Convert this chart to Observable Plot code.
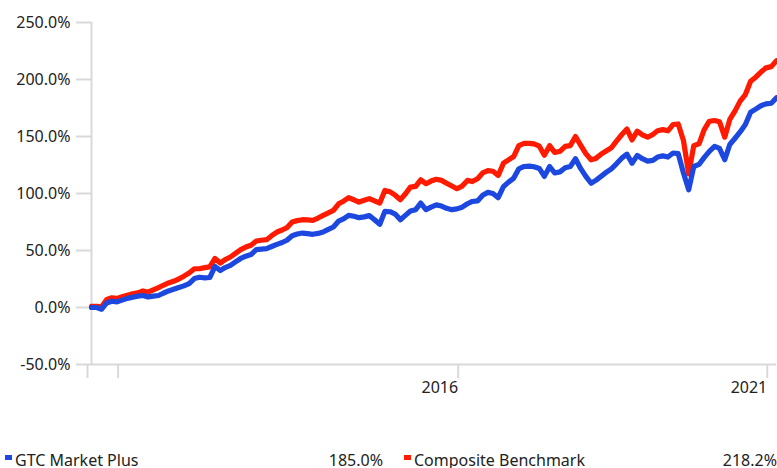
<!DOCTYPE html>
<html><head><meta charset="utf-8">
<script src="https://cdn.jsdelivr.net/npm/d3@7"></script>
<script src="https://cdn.jsdelivr.net/npm/@observablehq/plot@0.6"></script>
<style>
html,body{margin:0;padding:0;background:#fff;}
body{font-family:"Noto Sans",sans-serif;color:#222;width:777px;height:468px;overflow:hidden;}
#legend{position:relative;width:777px;height:16px;font-size:16px;line-height:16px;}
.item{position:absolute;top:0;display:flex;align-items:flex-start;white-space:nowrap;}
.sw{width:7px;height:5px;margin-top:3px;margin-right:3px;flex:none;}
.name{flex:1;}
.val{text-align:right;}
</style></head><body>
<div id="chart"></div>
<div id="legend"></div>
<script>
// Monthly observations, first month Jan 2010, last month Feb 2021
const firstMonth = "2010-01-01";
const lastMonth = "2021-02-01";
const gtc = [0,0,-1.5,4,5.5,5,6.5,8,9,10,10.5,9.3,10,10.5,12.5,14.5,16,17.5,19,21,
25.4,26.5,26,26.3,36,32.4,35,37,40,43,45,46.4,50.8,51.2,51.7,53.5,55.4,57,59,63,
64.5,65.3,64.8,64.2,65,66.2,68.5,70.6,75.8,78,80.8,80,78.8,79.5,80.6,77,73,84.3,84,82,
77,81,84.6,85.8,91.6,85.8,88,90,89,87,85.8,86.5,88,91,93,93.5,98.5,101,100,96.3,
106,110,113.5,121.7,123.7,124,123.5,122,115,123.7,118,119,122.6,123.7,130.5,122,115,109,111.5,115,
118.5,121.7,126,131,134.5,126.5,133.4,130.5,128.4,129,132,133,132,135.5,135,118,103.3,123.7,125.5,131.5,
137,141.3,139.5,129.6,143,148.5,154,160.5,171.3,174,177,178.6,179.2,184];
const composite = [1,1,0.5,7,8.5,8,9.5,10.8,12,12.8,14.5,13.4,15.5,17.5,19.5,21.5,23,25,27.5,30.3,
34,34,35,35.6,43,39,42,44.3,47.5,50.8,53,54.6,58.3,59,59.5,63,66.2,68,70,75,
76.2,77,76.8,76.5,78.5,80.8,83,85.2,91,93.5,96.3,94.5,92.5,94,95.5,93.5,91.6,102.7,101.5,98.5,
94.6,100,105.6,106.2,112,108.6,110.9,112.5,111.5,109,106.5,104.2,106.5,111.5,110.5,113,118,120,119.5,115.8,
126.6,129.5,132.5,142,144,144,143.5,141.5,133.5,142,136,137,141.3,142,150,142.5,135,129.6,130.8,134.5,
137.3,140.1,146,151.5,156.5,147,154.7,151.5,149.4,151.8,155,156,155,160.5,161,146.5,117.3,142,143.6,155.9,
163.4,164,163,149.4,165,172.5,181,186.8,198.4,202,206.5,210.2,211.3,216.5];
const seriesNames = ["GTC Market Plus", "Composite Benchmark"];
const seriesTotals = ["185.0%", "218.2%"];
const seriesColors = ["#1c48e0", "#ff1a00"];
const yTicks = [-50, 0, 50, 100, 150, 200, 250];
const xTickDates = ["2010-01-01", "2010-07-01", "2016-01-01", "2021-01-01"];
const xTickLabels = ["", "", "2016", "2021"];

const start = new Date(firstMonth), end = new Date(lastMonth);
const months = d3.utcMonth.range(start, d3.utcMonth.offset(end, 1));
const data = months.map((date, i) => ({date, gtc: gtc[i], composite: composite[i]}));
const xTicks = xTickDates.map(d => new Date(d));
const labelOf = new Map(xTicks.map((d, i) => [+d, xTickLabels[i]]));
const gray = "#d9d9d9";

const chart = Plot.plot({
  width: 777, height: 452,
  marginLeft: 91, marginRight: 1, marginTop: 22, marginBottom: 88,
  style: {fontFamily: "Noto Sans", fontSize: "16px", color: "#222", background: "#fff"},
  x: {type: "utc", domain: [start, end]},
  y: {domain: [-50, 250]},
  marks: [
    Plot.ruleY([-50], {stroke: gray, strokeWidth: 2}),
    Plot.ruleX([start], {y1: -50, y2: 250, stroke: gray, strokeWidth: 2}),
    Plot.axisY({ticks: yTicks, tickSize: 15, tickPadding: 6, stroke: gray, strokeWidth: 2, fill: "#222",
      tickFormat: d => d.toFixed(1) + "%", label: null}),
    Plot.axisX({ticks: xTicks, tickSize: 14, tickPadding: 3, stroke: gray, strokeWidth: 2, fill: "#222",
      tickFormat: d => labelOf.get(+d) ?? "", textAnchor: "end", dx: -4, label: null}),
    Plot.line(data, {x: "date", y: "composite", stroke: seriesColors[1], strokeWidth: 5.2, strokeLinejoin: "round"}),
    Plot.line(data, {x: "date", y: "gtc", stroke: seriesColors[0], strokeWidth: 5.2, strokeLinejoin: "round"})
  ]
});
document.getElementById("chart").appendChild(chart);

const legend = document.getElementById("legend");
const layout = [{left: 5, width: 378}, {left: 404, width: 373}];
seriesNames.forEach((name, i) => {
  const item = document.createElement("div");
  item.className = "item";
  item.style.left = layout[i].left + "px";
  item.style.width = layout[i].width + "px";
  item.innerHTML = `<span class="sw" style="background:${seriesColors[i]}"></span><span class="name">${name}</span><span class="val">${seriesTotals[i]}</span>`;
  legend.appendChild(item);
});
</script>
</body></html>
